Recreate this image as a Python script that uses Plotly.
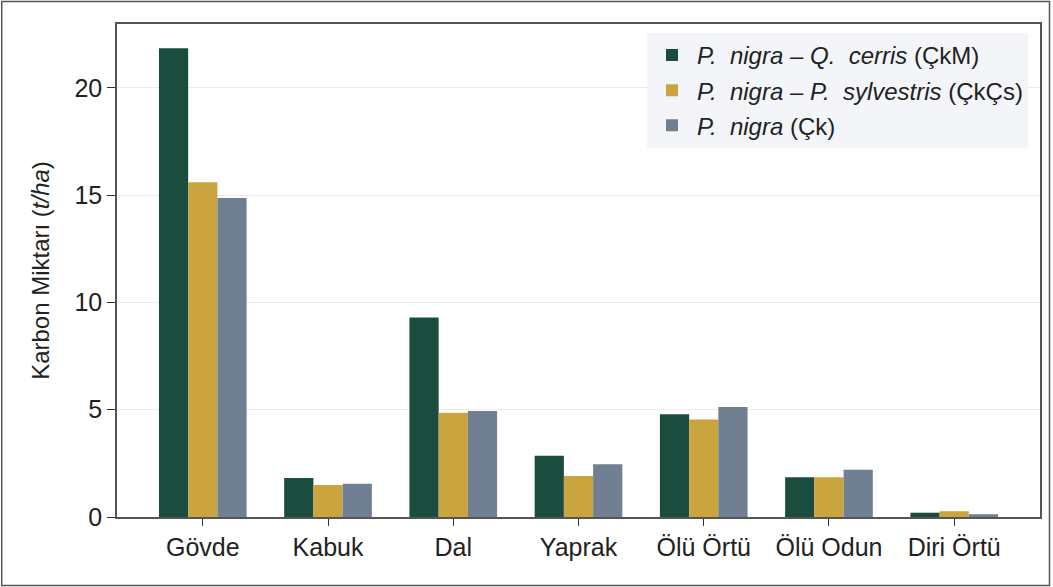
import plotly.graph_objects as go

categories = ["Gövde", "Kabuk", "Dal", "Yaprak", "Ölü Örtü", "Ölü Odun", "Diri Örtü"]
ckm = [21.85, 1.82, 9.3, 2.86, 4.79, 1.85, 0.2]
ckcs = [15.6, 1.49, 4.86, 1.91, 4.55, 1.85, 0.27]
ck = [14.87, 1.55, 4.94, 2.46, 5.13, 2.2, 0.13]
series_names = [
    "<i>P.  nigra – Q.  cerris</i> (ÇkM)",
    "<i>P.  nigra – P.  sylvestris</i> (ÇkÇs)",
    "<i>P.  nigra</i> (Çk)",
]
y_ticks = [0, 5, 10, 15, 20]

colors = ["#1b4d3e", "#c9a43f", "#708092"]

fig = go.Figure()
for i, (name, vals, col) in enumerate(zip(series_names, [ckm, ckcs, ck], colors)):
    fig.add_trace(go.Bar(
        x=list(range(len(categories))),
        y=vals,
        name=name,
        legendgroup=f"g{i}",
        marker=dict(color=col, line=dict(width=0)),
    ))

fig.update_layout(
    barmode="group",
    bargap=0.3,
    bargroupgap=0,
    width=1053,
    height=587,
    plot_bgcolor="white",
    paper_bgcolor="white",
    font=dict(family="Liberation Sans, Arial, sans-serif", size=25, color="#222222"),
    margin=dict(l=117, r=11, t=24, b=70),
    xaxis=dict(
        tickmode="array",
        tickvals=list(range(len(categories))),
        ticktext=categories,
        range=[-0.685, 6.685],
        showgrid=False,
        ticks="outside",
        ticklen=7,
        tickcolor="#333333",
        showline=True,
        linecolor="#555555",
        linewidth=1.5,
        mirror=True,
        zeroline=False,
    ),
    yaxis=dict(
        title=dict(text="Karbon Miktarı (<i>t/ha</i>)", font=dict(size=24), standoff=18),
        tickvals=y_ticks,
        range=[0, 22.98],
        showgrid=True,
        gridcolor="#ececec",
        gridwidth=1,
        ticks="outside",
        ticklen=8,
        tickcolor="#333333",
        showline=True,
        linecolor="#555555",
        linewidth=1.5,
        mirror=True,
        zeroline=False,
    ),
    legend=dict(
        x=0.987,
        y=0.982,
        xanchor="right",
        yanchor="top",
        bgcolor="rgba(242,244,247,0.9)",
        borderwidth=0,
        font=dict(size=24),
        itemwidth=40,
        tracegroupgap=1,
    ),
    shapes=[dict(
        type="rect",
        xref="paper",
        yref="paper",
        x0=-0.1249,
        x1=1.0103,
        y0=-0.139,
        y1=1.0456,
        line=dict(color="#555555", width=1.5),
        fillcolor="rgba(0,0,0,0)",
        layer="above",
    )],
)

# page body has a default 8px margin; drop it so the fixed-size figure fits the window
fig.write_html(
    "out.html",
    config={"displayModeBar": False},
    post_script="document.body.style.margin='0px';",
)
